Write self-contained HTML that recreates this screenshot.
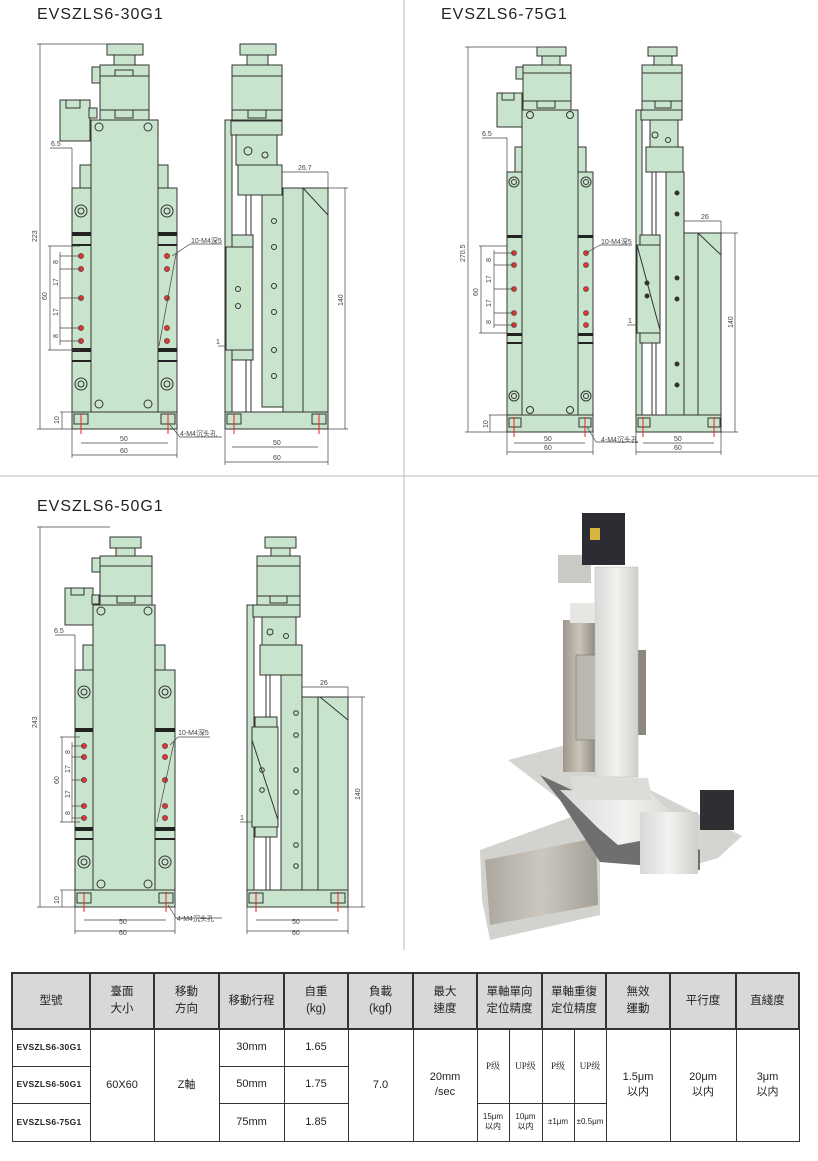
<!DOCTYPE html>
<html><head><meta charset="utf-8"><style>
body{margin:0;background:#fff;width:818px;height:1161px;position:relative;overflow:hidden;font-family:"Liberation Sans","Noto Sans CJK TC",sans-serif}
svg{position:absolute;left:0;top:0}
.t{position:absolute;font-size:16px;letter-spacing:1px;color:#222}
table{position:absolute;left:11px;top:972px;border-collapse:collapse;table-layout:fixed}
td{border:1.5px solid #333;text-align:center;vertical-align:middle;font-size:11px;color:#222;padding:0;line-height:15px}
th{border:2px solid #333;background:#d8d8d8;font-weight:normal;font-size:11.5px;color:#222;line-height:17px;padding:0}
.m{font-size:8.5px;font-weight:bold;text-align:left;padding-left:4px;letter-spacing:.3px}
.s{font-size:8px;line-height:10px}
.sf{font-family:"Liberation Serif","Noto Serif CJK SC",serif;font-size:9px}
</style></head><body>
<div class="t" style="left:37px;top:6px">EVSZLS6-30G1</div>
<div class="t" style="left:441px;top:6px">EVSZLS6-75G1</div>
<div class="t" style="left:37px;top:498px">EVSZLS6-50G1</div>

<svg width="818" height="960" viewBox="0 0 818 960">
<defs>
<linearGradient id="al" x1="0" x2="1"><stop offset="0" stop-color="#d8d8d6"/><stop offset=".5" stop-color="#f2f2f0"/><stop offset="1" stop-color="#cfcfcc"/></linearGradient>
<linearGradient id="st" x1="0" x2="1"><stop offset="0" stop-color="#9c968c"/><stop offset=".5" stop-color="#c9c3b8"/><stop offset="1" stop-color="#8f8a80"/></linearGradient>
</defs>
<g stroke="#bbb" stroke-width="1"><line x1="404" y1="0" x2="404" y2="950"/><line x1="0" y1="476" x2="818" y2="476"/></g>

<g fill="#c9e4cd" stroke="#333" stroke-width="1">
<!-- ===== Drawing 1 front ===== -->
<rect x="107" y="44" width="36" height="11"/><rect x="114" y="55" width="21" height="10"/>
<rect x="100" y="65" width="49" height="55"/><line x1="100" y1="76" x2="149" y2="76"/><line x1="100" y1="110" x2="149" y2="110"/>
<rect x="115" y="70" width="18" height="6"/><rect x="115" y="110" width="18" height="8"/>
<rect x="92" y="67" width="8" height="16"/>
<rect x="60" y="100" width="30" height="41"/><rect x="66" y="100" width="14" height="8"/><rect x="89" y="108" width="8" height="10"/>
<rect x="80" y="165" width="11" height="23"/><rect x="158" y="165" width="10" height="23"/>
<rect x="72" y="188" width="19" height="224"/><rect x="158" y="188" width="19" height="224"/>
<rect x="91" y="120" width="67" height="292"/>
<g fill="#222" stroke="none"><rect x="72" y="232" width="19" height="4"/><rect x="158" y="232" width="19" height="4"/><rect x="72" y="348" width="19" height="4"/><rect x="158" y="348" width="19" height="4"/><rect x="72" y="244" width="19" height="2"/><rect x="158" y="244" width="19" height="2"/><rect x="72" y="360" width="19" height="2"/><rect x="158" y="360" width="19" height="2"/></g>
<circle cx="81" cy="211" r="6"/><circle cx="81" cy="211" r="3"/><circle cx="167" cy="211" r="6"/><circle cx="167" cy="211" r="3"/>
<circle cx="81" cy="384" r="6"/><circle cx="81" cy="384" r="3"/><circle cx="167" cy="384" r="6"/><circle cx="167" cy="384" r="3"/>
<circle cx="99" cy="127" r="4"/><circle cx="148" cy="127" r="4"/><circle cx="99" cy="404" r="4"/><circle cx="148" cy="404" r="4"/>
<g fill="#e33" stroke="#333" stroke-width=".6"><circle cx="81" cy="256" r="2.6"/><circle cx="81" cy="269" r="2.6"/><circle cx="81" cy="298" r="2.6"/><circle cx="81" cy="328" r="2.6"/><circle cx="81" cy="341" r="2.6"/><circle cx="167" cy="256" r="2.6"/><circle cx="167" cy="269" r="2.6"/><circle cx="167" cy="298" r="2.6"/><circle cx="167" cy="328" r="2.6"/><circle cx="167" cy="341" r="2.6"/></g>
<rect x="72" y="412" width="105" height="17"/><rect x="74" y="414" width="14" height="10"/><rect x="161" y="414" width="14" height="10"/>
<!-- side 1 -->
<rect x="240" y="44" width="36" height="11"/><rect x="247" y="55" width="21" height="10"/>
<rect x="232" y="65" width="50" height="55"/><line x1="232" y1="76" x2="282" y2="76"/><line x1="232" y1="110" x2="282" y2="110"/><rect x="248" y="110" width="18" height="8"/>
<rect x="225" y="120" width="7" height="292"/><rect x="231" y="121" width="51" height="14"/>
<rect x="236" y="135" width="41" height="30"/><circle cx="248" cy="151" r="4"/><circle cx="265" cy="155" r="3"/>
<rect x="238" y="165" width="44" height="30"/>
<rect x="283" y="188" width="45" height="224"/><line x1="303" y1="188" x2="303" y2="412"/><line x1="303" y1="188" x2="328" y2="215"/>
<rect x="262" y="195" width="21" height="212"/>
<line x1="246" y1="195" x2="246" y2="412"/><line x1="251" y1="195" x2="251" y2="412"/>
<rect x="232" y="235" width="21" height="12"/><rect x="226" y="247" width="27" height="103"/><rect x="232" y="350" width="21" height="10"/>
<g fill="none"><circle cx="274" cy="221" r="2.5"/><circle cx="274" cy="247" r="2.5"/><circle cx="274" cy="286" r="2.5"/><circle cx="274" cy="312" r="2.5"/><circle cx="274" cy="350" r="2.5"/><circle cx="274" cy="376" r="2.5"/><circle cx="238" cy="289" r="2.5"/><circle cx="238" cy="306" r="2.5"/></g>
<rect x="225" y="412" width="103" height="17"/><rect x="227" y="414" width="14" height="10"/><rect x="312" y="414" width="14" height="10"/>

<!-- ===== Drawing 2 front (75) ===== -->
<rect x="537" y="47" width="29" height="9"/><rect x="542" y="56" width="18" height="9"/>
<rect x="523" y="65" width="48" height="45"/><line x1="523" y1="73" x2="571" y2="73"/><line x1="523" y1="101" x2="571" y2="101"/><rect x="537" y="101" width="18" height="7"/>
<rect x="516" y="67" width="7" height="12"/>
<rect x="497" y="93" width="25" height="34"/><rect x="502" y="93" width="12" height="7"/>
<rect x="515" y="147" width="8" height="25"/><rect x="578" y="147" width="8" height="25"/>
<rect x="507" y="172" width="15" height="243"/><rect x="578" y="172" width="15" height="243"/>
<rect x="522" y="110" width="56" height="305"/>
<g fill="#222" stroke="none"><rect x="507" y="235" width="15" height="3"/><rect x="578" y="235" width="15" height="3"/><rect x="507" y="333" width="15" height="3"/><rect x="578" y="333" width="15" height="3"/><rect x="507" y="342" width="15" height="2"/><rect x="578" y="342" width="15" height="2"/></g>
<circle cx="514" cy="182" r="5"/><circle cx="514" cy="182" r="2.5"/><circle cx="586" cy="182" r="5"/><circle cx="586" cy="182" r="2.5"/>
<circle cx="514" cy="396" r="5"/><circle cx="514" cy="396" r="2.5"/><circle cx="586" cy="396" r="5"/><circle cx="586" cy="396" r="2.5"/>
<circle cx="530" cy="115" r="3.5"/><circle cx="570" cy="115" r="3.5"/><circle cx="530" cy="410" r="3.5"/><circle cx="570" cy="410" r="3.5"/>
<g fill="#e33" stroke="#333" stroke-width=".6"><circle cx="514" cy="253" r="2.5"/><circle cx="514" cy="265" r="2.5"/><circle cx="514" cy="289" r="2.5"/><circle cx="514" cy="313" r="2.5"/><circle cx="514" cy="325" r="2.5"/><circle cx="586" cy="253" r="2.5"/><circle cx="586" cy="265" r="2.5"/><circle cx="586" cy="289" r="2.5"/><circle cx="586" cy="313" r="2.5"/><circle cx="586" cy="325" r="2.5"/></g>
<rect x="507" y="415" width="86" height="17"/><rect x="509" y="418" width="12" height="9"/><rect x="579" y="418" width="12" height="9"/>
<!-- side 2 -->
<rect x="648" y="47" width="29" height="9"/><rect x="654" y="56" width="18" height="9"/>
<rect x="642" y="65" width="40" height="45"/><line x1="642" y1="73" x2="682" y2="73"/><line x1="642" y1="101" x2="682" y2="101"/><rect x="655" y="101" width="16" height="7"/>
<rect x="636" y="110" width="6" height="305"/><rect x="641" y="110" width="41" height="10"/>
<rect x="650" y="120" width="28" height="27"/><circle cx="655" cy="135" r="3"/><circle cx="668" cy="140" r="2.5"/>
<rect x="646" y="147" width="37" height="25"/>
<rect x="666" y="172" width="18" height="243"/>
<rect x="684" y="233" width="37" height="182"/><line x1="698" y1="233" x2="698" y2="415"/><line x1="698" y1="233" x2="721" y2="255"/>
<line x1="652" y1="172" x2="652" y2="415"/><line x1="656" y1="172" x2="656" y2="415"/>
<rect x="640" y="235" width="20" height="10"/><rect x="637" y="245" width="23" height="88"/><rect x="640" y="333" width="20" height="10"/>
<line x1="637" y1="245" x2="660" y2="330"/>
<g fill="#333"><circle cx="677" cy="193" r="2"/><circle cx="677" cy="214" r="2"/><circle cx="677" cy="278" r="2"/><circle cx="677" cy="299" r="2"/><circle cx="677" cy="364" r="2"/><circle cx="677" cy="385" r="2"/><circle cx="647" cy="283" r="2"/><circle cx="647" cy="296" r="2"/></g>
<rect x="636" y="415" width="85" height="17"/><rect x="638" y="418" width="12" height="9"/><rect x="708" y="418" width="12" height="9"/>

<!-- ===== Drawing 3 front (50) ===== -->
<rect x="110" y="537" width="31" height="11"/><rect x="116" y="548" width="19" height="8"/>
<rect x="100" y="556" width="52" height="49"/><line x1="100" y1="566" x2="152" y2="566"/><line x1="100" y1="596" x2="152" y2="596"/><rect x="117" y="596" width="18" height="7"/>
<rect x="92" y="558" width="8" height="14"/>
<rect x="65" y="588" width="28" height="37"/><rect x="71" y="588" width="13" height="7"/><rect x="92" y="595" width="7" height="9"/>
<rect x="83" y="645" width="10" height="25"/><rect x="155" y="645" width="10" height="25"/>
<rect x="75" y="670" width="18" height="220"/><rect x="155" y="670" width="20" height="220"/>
<rect x="93" y="605" width="62" height="285"/>
<g fill="#222" stroke="none"><rect x="75" y="728" width="18" height="4"/><rect x="155" y="728" width="20" height="4"/><rect x="75" y="827" width="18" height="4"/><rect x="155" y="827" width="20" height="4"/><rect x="75" y="838" width="18" height="2"/><rect x="155" y="838" width="20" height="2"/></g>
<circle cx="84" cy="692" r="6"/><circle cx="84" cy="692" r="3"/><circle cx="165" cy="692" r="6"/><circle cx="165" cy="692" r="3"/>
<circle cx="84" cy="862" r="6"/><circle cx="84" cy="862" r="3"/><circle cx="165" cy="862" r="6"/><circle cx="165" cy="862" r="3"/>
<circle cx="101" cy="611" r="4"/><circle cx="148" cy="611" r="4"/><circle cx="101" cy="884" r="4"/><circle cx="148" cy="884" r="4"/>
<g fill="#e33" stroke="#333" stroke-width=".6"><circle cx="84" cy="746" r="2.6"/><circle cx="84" cy="757" r="2.6"/><circle cx="84" cy="780" r="2.6"/><circle cx="84" cy="806" r="2.6"/><circle cx="84" cy="818" r="2.6"/><circle cx="165" cy="746" r="2.6"/><circle cx="165" cy="757" r="2.6"/><circle cx="165" cy="780" r="2.6"/><circle cx="165" cy="806" r="2.6"/><circle cx="165" cy="818" r="2.6"/></g>
<rect x="75" y="890" width="100" height="17"/><rect x="77" y="893" width="14" height="10"/><rect x="159" y="893" width="14" height="10"/>
<!-- side 3 -->
<rect x="265" y="537" width="31" height="11"/><rect x="271" y="548" width="19" height="8"/>
<rect x="257" y="556" width="43" height="49"/><line x1="257" y1="566" x2="300" y2="566"/><line x1="257" y1="596" x2="300" y2="596"/><rect x="270" y="596" width="17" height="7"/>
<rect x="247" y="605" width="7" height="285"/><rect x="253" y="605" width="47" height="12"/>
<rect x="262" y="617" width="34" height="28"/><circle cx="270" cy="632" r="3"/><circle cx="286" cy="636" r="2.5"/>
<rect x="260" y="645" width="42" height="30"/>
<rect x="281" y="675" width="21" height="215"/>
<rect x="302" y="697" width="46" height="193"/><line x1="318" y1="697" x2="318" y2="890"/><line x1="320" y1="697" x2="348" y2="720"/>
<line x1="266" y1="675" x2="266" y2="890"/><line x1="270" y1="675" x2="270" y2="890"/>
<rect x="255" y="717" width="22" height="10"/><rect x="252" y="727" width="26" height="100"/><rect x="255" y="827" width="22" height="10"/>
<line x1="252" y1="740" x2="278" y2="820"/>
<g fill="none"><circle cx="296" cy="713" r="2.3"/><circle cx="296" cy="735" r="2.3"/><circle cx="296" cy="770" r="2.3"/><circle cx="296" cy="792" r="2.3"/><circle cx="296" cy="845" r="2.3"/><circle cx="296" cy="866" r="2.3"/><circle cx="262" cy="770" r="2.3"/><circle cx="262" cy="790" r="2.3"/></g>
<rect x="247" y="890" width="101" height="17"/><rect x="249" y="893" width="14" height="10"/><rect x="331" y="893" width="14" height="10"/>
</g>

<!-- red center lines -->
<g stroke="#e22" stroke-width="1"><line x1="81" y1="414" x2="81" y2="434"/><line x1="168" y1="414" x2="168" y2="434"/><line x1="234" y1="414" x2="234" y2="434"/><line x1="319" y1="414" x2="319" y2="434"/>
<line x1="514" y1="417" x2="514" y2="437"/><line x1="585" y1="417" x2="585" y2="437"/><line x1="643" y1="417" x2="643" y2="437"/><line x1="714" y1="417" x2="714" y2="437"/>
<line x1="84" y1="892" x2="84" y2="912"/><line x1="166" y1="892" x2="166" y2="912"/><line x1="256" y1="892" x2="256" y2="912"/><line x1="338" y1="892" x2="338" y2="912"/></g>

<!-- dimension lines -->
<g stroke="#444" stroke-width=".7" fill="none">
<line x1="40" y1="44" x2="40" y2="429"/><line x1="37" y1="44" x2="142" y2="44"/><line x1="37" y1="429" x2="72" y2="429"/>
<line x1="50" y1="246" x2="50" y2="350"/><line x1="48" y1="246" x2="80" y2="246"/><line x1="48" y1="350" x2="80" y2="350"/>
<line x1="60" y1="256" x2="81" y2="256"/><line x1="60" y1="269" x2="81" y2="269"/><line x1="60" y1="298" x2="81" y2="298"/><line x1="60" y1="328" x2="81" y2="328"/><line x1="60" y1="341" x2="81" y2="341"/><line x1="60" y1="252" x2="60" y2="345"/>
<line x1="60" y1="412" x2="72" y2="412"/><line x1="62" y1="412" x2="62" y2="429"/>
<line x1="50" y1="148" x2="72" y2="148"/><line x1="72" y1="148" x2="72" y2="188"/>
<line x1="81" y1="443" x2="168" y2="443"/><line x1="72" y1="455" x2="177" y2="455"/><line x1="72" y1="429" x2="72" y2="458"/><line x1="177" y1="429" x2="177" y2="458"/>
<line x1="176" y1="254" x2="159" y2="346"/><line x1="172" y1="256" x2="190" y2="244"/><line x1="190" y1="244" x2="222" y2="244"/>
<line x1="170" y1="425" x2="180" y2="437"/><line x1="180" y1="437" x2="222" y2="437"/>
<line x1="282" y1="172" x2="328" y2="172"/><line x1="328" y1="172" x2="328" y2="188"/>
<line x1="345" y1="188" x2="345" y2="429"/><line x1="328" y1="188" x2="348" y2="188"/><line x1="328" y1="429" x2="348" y2="429"/>
<line x1="232" y1="447" x2="318" y2="447"/><line x1="225" y1="462" x2="328" y2="462"/><line x1="225" y1="429" x2="225" y2="465"/><line x1="328" y1="429" x2="328" y2="465"/>
<line x1="218" y1="346" x2="226" y2="346"/>
<line x1="468" y1="47" x2="468" y2="432"/><line x1="465" y1="47" x2="565" y2="47"/><line x1="465" y1="432" x2="507" y2="432"/>
<line x1="481" y1="246" x2="481" y2="333"/><line x1="479" y1="246" x2="507" y2="246"/><line x1="479" y1="333" x2="507" y2="333"/>
<line x1="494" y1="253" x2="514" y2="253"/><line x1="494" y1="265" x2="514" y2="265"/><line x1="494" y1="289" x2="514" y2="289"/><line x1="494" y1="313" x2="514" y2="313"/><line x1="494" y1="325" x2="514" y2="325"/><line x1="494" y1="250" x2="494" y2="328"/>
<line x1="489" y1="415" x2="507" y2="415"/><line x1="490" y1="415" x2="490" y2="432"/>
<line x1="482" y1="138" x2="507" y2="138"/><line x1="507" y1="138" x2="507" y2="172"/>
<line x1="514" y1="443" x2="585" y2="443"/><line x1="507" y1="452" x2="593" y2="452"/><line x1="507" y1="432" x2="507" y2="455"/><line x1="593" y1="432" x2="593" y2="455"/>
<line x1="586" y1="253" x2="600" y2="245"/><line x1="600" y1="245" x2="632" y2="245"/>
<line x1="587" y1="427" x2="596" y2="442"/><line x1="596" y1="442" x2="638" y2="442"/>
<line x1="684" y1="221" x2="721" y2="221"/><line x1="721" y1="221" x2="721" y2="233"/>
<line x1="735" y1="233" x2="735" y2="432"/><line x1="721" y1="233" x2="738" y2="233"/><line x1="721" y1="432" x2="738" y2="432"/>
<line x1="643" y1="443" x2="714" y2="443"/><line x1="636" y1="452" x2="721" y2="452"/><line x1="636" y1="432" x2="636" y2="455"/><line x1="721" y1="432" x2="721" y2="455"/>
<line x1="627" y1="325" x2="637" y2="325"/>
<line x1="40" y1="527" x2="40" y2="907"/><line x1="37" y1="527" x2="110" y2="527"/><line x1="37" y1="907" x2="75" y2="907"/>
<line x1="62" y1="737" x2="62" y2="822"/><line x1="60" y1="737" x2="80" y2="737"/><line x1="60" y1="822" x2="80" y2="822"/>
<line x1="72" y1="746" x2="84" y2="746"/><line x1="72" y1="757" x2="84" y2="757"/><line x1="72" y1="780" x2="84" y2="780"/><line x1="72" y1="806" x2="84" y2="806"/><line x1="72" y1="818" x2="84" y2="818"/><line x1="72" y1="742" x2="72" y2="822"/>
<line x1="60" y1="890" x2="75" y2="890"/><line x1="62" y1="890" x2="62" y2="907"/>
<line x1="55" y1="635" x2="75" y2="635"/><line x1="75" y1="635" x2="75" y2="670"/>
<line x1="84" y1="920" x2="166" y2="920"/><line x1="75" y1="931" x2="175" y2="931"/><line x1="75" y1="907" x2="75" y2="934"/><line x1="175" y1="907" x2="175" y2="934"/>
<line x1="174" y1="742" x2="157" y2="822"/><line x1="170" y1="745" x2="178" y2="737"/><line x1="178" y1="737" x2="210" y2="737"/>
<line x1="168" y1="905" x2="176" y2="918"/><line x1="176" y1="918" x2="222" y2="918"/>
<line x1="302" y1="687" x2="348" y2="687"/><line x1="348" y1="687" x2="348" y2="697"/>
<line x1="362" y1="697" x2="362" y2="907"/><line x1="348" y1="697" x2="365" y2="697"/><line x1="348" y1="907" x2="365" y2="907"/>
<line x1="256" y1="920" x2="338" y2="920"/><line x1="247" y1="931" x2="348" y2="931"/><line x1="247" y1="907" x2="247" y2="934"/><line x1="348" y1="907" x2="348" y2="934"/>
<line x1="240" y1="822" x2="252" y2="822"/>
</g>

<g font-family="Liberation Sans, Noto Sans CJK SC, sans-serif" font-size="7" fill="#444">
<text x="37" y="242" transform="rotate(-90 37 242)">223</text>
<text x="47" y="300" transform="rotate(-90 47 300)">60</text>
<text x="58" y="264" transform="rotate(-90 58 264)">8</text><text x="58" y="286" transform="rotate(-90 58 286)">17</text><text x="58" y="316" transform="rotate(-90 58 316)">17</text><text x="58" y="338" transform="rotate(-90 58 338)">8</text>
<text x="59" y="424" transform="rotate(-90 59 424)">10</text>
<text x="51" y="146">6.5</text>
<text x="120" y="441">50</text><text x="120" y="453">60</text>
<text x="191" y="243">10-M4深5</text><text x="180" y="436">4-M4沉头孔</text>
<text x="298" y="170">26.7</text><text x="343" y="306" transform="rotate(-90 343 306)">140</text>
<text x="216" y="344">1</text><text x="273" y="445">50</text><text x="273" y="460">60</text>
<text x="465" y="262" transform="rotate(-90 465 262)">270.5</text>
<text x="478" y="296" transform="rotate(-90 478 296)">60</text>
<text x="491" y="262" transform="rotate(-90 491 262)">8</text><text x="491" y="283" transform="rotate(-90 491 283)">17</text><text x="491" y="307" transform="rotate(-90 491 307)">17</text><text x="491" y="324" transform="rotate(-90 491 324)">8</text>
<text x="488" y="428" transform="rotate(-90 488 428)">10</text>
<text x="482" y="136">6.5</text>
<text x="544" y="441">50</text><text x="544" y="450">60</text>
<text x="601" y="244">10-M4深5</text><text x="601" y="442">4-M4沉头孔</text>
<text x="701" y="219">26</text><text x="733" y="328" transform="rotate(-90 733 328)">140</text>
<text x="628" y="323">1</text><text x="674" y="441">50</text><text x="674" y="450">60</text>
<text x="37" y="728" transform="rotate(-90 37 728)">243</text>
<text x="59" y="784" transform="rotate(-90 59 784)">60</text>
<text x="70" y="754" transform="rotate(-90 70 754)">8</text><text x="70" y="773" transform="rotate(-90 70 773)">17</text><text x="70" y="798" transform="rotate(-90 70 798)">17</text><text x="70" y="815" transform="rotate(-90 70 815)">8</text>
<text x="59" y="904" transform="rotate(-90 59 904)">10</text>
<text x="54" y="633">6.5</text>
<text x="119" y="924">50</text><text x="119" y="935">60</text>
<text x="178" y="735">10-M4深5</text><text x="177" y="921">4-M4沉头孔</text>
<text x="320" y="685">26</text><text x="360" y="800" transform="rotate(-90 360 800)">140</text>
<text x="240" y="820">1</text><text x="292" y="924">50</text><text x="292" y="935">60</text>
</g>

<!-- photo -->
<g>
<!-- lower Y stage -->
<polygon points="480,850 585,812 600,840 600,915 490,940 482,900" fill="#d2d2cf"/>
<polygon points="485,860 596,838 598,905 490,925" fill="url(#st)" opacity=".7"/>
<!-- X stage -->
<polygon points="508,760 562,746 742,836 718,858 690,866 600,838 560,800" fill="#d4d4d0"/>
<polygon points="540,775 700,850 700,870 600,862 560,800" fill="#6f6f6f"/>
<polygon points="560,790 650,792 690,832 618,845 598,828" fill="url(#al)"/>
<rect x="640" y="812" width="58" height="62" fill="url(#al)"/>
<rect x="700" y="790" width="34" height="40" fill="#2f2f33"/>
<!-- Z column -->
<rect x="563" y="620" width="33" height="152" fill="url(#st)"/>
<rect x="576" y="655" width="20" height="85" fill="#bcb7ae" stroke="#666" stroke-width=".5"/>
<rect x="637" y="650" width="9" height="85" fill="#8d887f"/>
<rect x="595" y="567" width="43" height="210" fill="url(#al)" stroke="#bbb" stroke-width=".5"/>
<rect x="570" y="603" width="25" height="20" fill="#e6e6e3"/>
<rect x="558" y="555" width="33" height="28" fill="#c9c9c5"/>
<rect x="582" y="513" width="43" height="52" fill="#2b2d33"/>
<rect x="590" y="528" width="10" height="12" fill="#d6b640"/>
<polygon points="570,776 648,778 652,800 576,800" fill="#dcdcd8"/>
</g>
</svg>

<table>
<colgroup><col style="width:78px"><col style="width:64px"><col style="width:65px"><col style="width:65px"><col style="width:64px"><col style="width:65px"><col style="width:64px"><col style="width:32px"><col style="width:33px"><col style="width:32px"><col style="width:32px"><col style="width:64px"><col style="width:66px"><col style="width:63px"></colgroup>
<tr style="height:56px"><th>型號</th><th>臺面<br>大小</th><th>移動<br>方向</th><th>移動行程</th><th>自重<br>(kg)</th><th>負載<br>(kgf)</th><th>最大<br>速度</th><th colspan="2">單軸單向<br>定位精度</th><th colspan="2">單軸重復<br>定位精度</th><th>無效<br>運動</th><th>平行度</th><th>直綫度</th></tr>
<tr style="height:37px"><td class="m">EVSZLS6-30G1</td><td rowspan="3">60X60</td><td rowspan="3">Z軸</td><td>30mm</td><td>1.65</td><td rowspan="3">7.0</td><td rowspan="3">20mm<br>/sec</td><td rowspan="2" class="sf">P级</td><td rowspan="2" class="sf">UP级</td><td rowspan="2" class="sf">P级</td><td rowspan="2" class="sf">UP级</td><td rowspan="3">1.5μm<br>以内</td><td rowspan="3">20μm<br>以内</td><td rowspan="3">3μm<br>以内</td></tr>
<tr style="height:37px"><td class="m">EVSZLS6-50G1</td><td>50mm</td><td>1.75</td></tr>
<tr style="height:38px"><td class="m">EVSZLS6-75G1</td><td>75mm</td><td>1.85</td><td class="s">15μm<br>以内</td><td class="s">10μm<br>以内</td><td class="s">±1μm</td><td class="s">±0.5μm</td></tr>
</table>
</body></html>
